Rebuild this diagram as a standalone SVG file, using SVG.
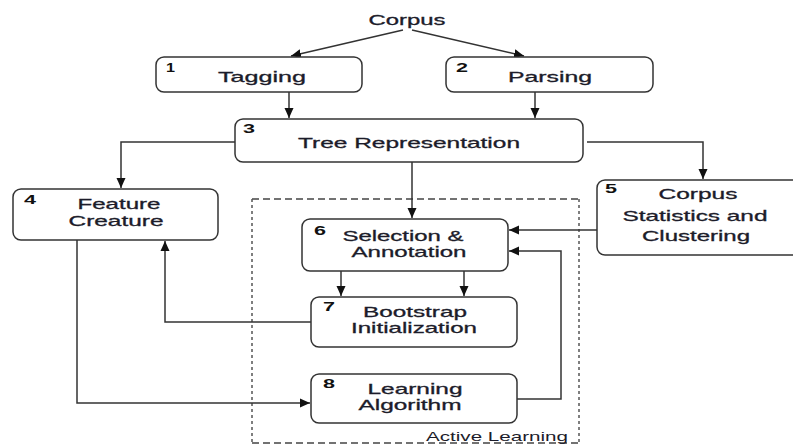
<svg xmlns="http://www.w3.org/2000/svg" width="793" height="446" viewBox="0 0 793 446">
<defs>
<marker id="ah" viewBox="0 0 10 10" refX="10" refY="5" markerWidth="10" markerHeight="10" markerUnits="userSpaceOnUse" orient="auto">
<path d="M0,0.5 L10,5 L0,9.5 z" fill="#111"/>
</marker>
</defs>
<style>
.box{fill:#fff;stroke:#333;stroke-width:1.5}
.t{font-family:"Liberation Sans",Arial,sans-serif;font-size:14.5px;fill:#1c1c2a;stroke:#1c1c2a;stroke-width:0.3;text-anchor:middle}
.n{font-family:"Liberation Sans",Arial,sans-serif;font-size:13px;font-weight:bold;fill:#111}
.c{fill:none;stroke:#333;stroke-width:1.5;marker-end:url(#ah)}
.dash{fill:none;stroke:#444;stroke-width:1.5;stroke-dasharray:7 4}
.dot{fill:none;stroke:#555;stroke-width:1.5;stroke-dasharray:3 3}
</style>
<rect width="793" height="446" fill="#fff"/>
<g id="active-learning">
<line class="dash" x1="252" y1="199" x2="579" y2="199"/>
<line class="dash" x1="252" y1="443" x2="579" y2="443"/>
<line class="dot" x1="252" y1="199" x2="252" y2="443"/>
<line class="dot" x1="579" y1="199" x2="579" y2="443"/>
<text x="426" y="441" textLength="142" lengthAdjust="spacingAndGlyphs" style="font-family:'Liberation Sans',Arial,sans-serif;font-size:13px;fill:#1c1c2a">Active Learning</text>
</g>
<g id="connectors">
<path class="c" d="M403,30 L291,56"/>
<path class="c" d="M412,30 L524,56"/>
<path class="c" d="M289,92 L289,118"/>
<path class="c" d="M535,92 L535,118"/>
<path class="c" d="M235,142 L121,142 L121,188"/>
<path class="c" d="M587,142 L703,142 L703,179"/>
<path class="c" d="M412,162 L412,218"/>
<path class="c" d="M597,230 L509,230"/>
<path class="c" d="M517,399 L561,399 L561,251 L509,251"/>
<path class="c" d="M341,271 L341,296"/>
<path class="c" d="M464,271 L464,296"/>
<path class="c" d="M311,322 L165,322 L165,241"/>
<path class="c" d="M77,240 L77,403 L310,403"/>
</g>
<g id="corpus">
<text class="t" x="407" y="25" textLength="77" lengthAdjust="spacingAndGlyphs">Corpus</text>
</g>
<g id="n1">
<rect class="box" x="156" y="57" width="206" height="35" rx="8"/>
<text class="n" x="166" y="72" textLength="9" lengthAdjust="spacingAndGlyphs">1</text>
<text class="t" x="262" y="82" textLength="88" lengthAdjust="spacingAndGlyphs">Tagging</text>
</g>
<g id="n2">
<rect class="box" x="446" y="57" width="207" height="35" rx="8"/>
<text class="n" x="456" y="72" textLength="12" lengthAdjust="spacingAndGlyphs">2</text>
<text class="t" x="550" y="82" textLength="84" lengthAdjust="spacingAndGlyphs">Parsing</text>
</g>
<g id="n3">
<rect class="box" x="235" y="119" width="348" height="43" rx="8"/>
<text class="n" x="243" y="133" textLength="12" lengthAdjust="spacingAndGlyphs">3</text>
<text class="t" x="409" y="148" textLength="222" lengthAdjust="spacingAndGlyphs">Tree Representation</text>
</g>
<g id="n4">
<rect class="box" x="13" y="189" width="205" height="51" rx="8"/>
<text class="n" x="24" y="204" textLength="12" lengthAdjust="spacingAndGlyphs">4</text>
<text class="t"><tspan x="119" y="209" textLength="83" lengthAdjust="spacingAndGlyphs">Feature</tspan><tspan x="116" y="226" textLength="95" lengthAdjust="spacingAndGlyphs">Creature</tspan></text>
</g>
<g id="n5">
<rect class="box" x="597" y="180" width="210" height="75" rx="8"/>
<text class="n" x="605" y="193" textLength="12" lengthAdjust="spacingAndGlyphs">5</text>
<text class="t"><tspan x="698" y="199" textLength="79" lengthAdjust="spacingAndGlyphs">Corpus</tspan><tspan x="695" y="221" textLength="145" lengthAdjust="spacingAndGlyphs">Statistics and</tspan><tspan x="696" y="241" textLength="108" lengthAdjust="spacingAndGlyphs">Clustering</tspan></text>
</g>
<g id="n6">
<rect class="box" x="302" y="219" width="206" height="52" rx="8"/>
<text class="n" x="314" y="235" textLength="12" lengthAdjust="spacingAndGlyphs">6</text>
<text class="t"><tspan x="403" y="241" textLength="121" lengthAdjust="spacingAndGlyphs">Selection &amp;</tspan><tspan x="409" y="257" textLength="115" lengthAdjust="spacingAndGlyphs">Annotation</tspan></text>
</g>
<g id="n7">
<rect class="box" x="311" y="297" width="206" height="50" rx="8"/>
<text class="n" x="323" y="311" textLength="12" lengthAdjust="spacingAndGlyphs">7</text>
<text class="t"><tspan x="415" y="317" textLength="104" lengthAdjust="spacingAndGlyphs">Bootstrap</tspan><tspan x="414" y="333" textLength="126" lengthAdjust="spacingAndGlyphs">Initialization</tspan></text>
</g>
<g id="n8">
<rect class="box" x="311" y="374" width="206" height="49" rx="8"/>
<text class="n" x="323" y="388" textLength="12" lengthAdjust="spacingAndGlyphs">8</text>
<text class="t"><tspan x="415" y="394" textLength="95" lengthAdjust="spacingAndGlyphs">Learning</tspan><tspan x="410" y="410" textLength="103" lengthAdjust="spacingAndGlyphs">Algorithm</tspan></text>
</g>
</svg>
